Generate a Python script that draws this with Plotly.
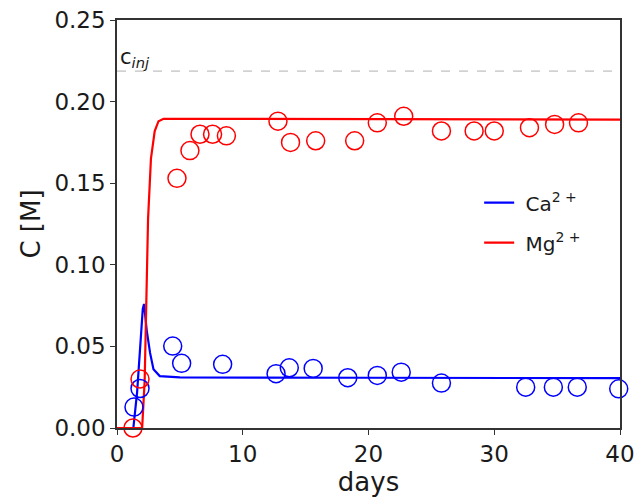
import plotly.graph_objects as go

# Measured data (open circles)
mg_days = [1.27, 1.83, 4.77, 5.8, 6.6, 7.6, 8.7, 12.8, 13.8, 15.8, 18.9, 20.7, 22.8, 25.8, 28.4, 30.0, 32.8, 34.8, 36.7]
mg_conc = [0.000, 0.030, 0.153, 0.170, 0.180, 0.180, 0.179, 0.188, 0.175, 0.176, 0.176, 0.187, 0.191, 0.182, 0.182, 0.182, 0.184, 0.186, 0.187]

ca_days = [1.35, 1.83, 4.43, 5.14, 8.4, 12.65, 13.7, 15.6, 18.35, 20.7, 22.6, 25.8, 32.5, 34.7, 36.6, 39.9]
ca_conc = [0.0128, 0.0242, 0.0502, 0.0396, 0.0390, 0.0333, 0.0369, 0.0365, 0.0308, 0.0322, 0.0342, 0.0275, 0.0250, 0.0250, 0.0250, 0.0240]

# Model curves
ca_model_days = [0.0, 1.3, 1.6, 1.85, 2.05, 2.15, 2.36, 2.63, 2.9, 3.4, 5.0, 20.0, 40.0]
ca_model_conc = [0.0, 0.0, 0.022, 0.050, 0.073, 0.076, 0.060, 0.046, 0.036, 0.0318, 0.031, 0.0308, 0.0305]

mg_model_days = [0.0, 2.0, 2.2, 2.36, 2.47, 2.7, 3.0, 3.3, 3.7, 40.0]
mg_model_conc = [0.0, 0.0, 0.029, 0.091, 0.128, 0.165, 0.182, 0.188, 0.1895, 0.189]

c_inj = 0.2187

x_ticks = [0, 10, 20, 30, 40]
y_ticks = [0.00, 0.05, 0.10, 0.15, 0.20, 0.25]

BLUE = "#0000ff"
RED = "#ff0000"
FONT = "DejaVu Sans"
TXT = "#1a1a1a"

fig = go.Figure()

fig.add_trace(go.Scatter(x=[0, 40], y=[c_inj, c_inj], mode="lines",
                         line=dict(color="#b0b0b0", width=1, dash="dash"),
                         showlegend=False, hoverinfo="skip"))

fig.add_trace(go.Scatter(x=ca_model_days, y=ca_model_conc, mode="lines",
                         line=dict(color=BLUE, width=2.2), name="\u00a0Ca<sup>2 +</sup>",
                         legendgroup="ca"))
fig.add_trace(go.Scatter(x=mg_model_days, y=mg_model_conc, mode="lines",
                         line=dict(color=RED, width=2.2), name="\u00a0Mg<sup>2 +</sup>",
                         legendgroup="mg"))

fig.add_trace(go.Scatter(x=ca_days, y=ca_conc, mode="markers",
                         marker=dict(symbol="circle-open", size=18, color=BLUE, line=dict(width=1.5)),
                         showlegend=False, cliponaxis=False))
fig.add_trace(go.Scatter(x=mg_days, y=mg_conc, mode="markers",
                         marker=dict(symbol="circle-open", size=18, color=RED, line=dict(width=1.5)),
                         showlegend=False, cliponaxis=False))

fig.add_annotation(x=0.05, y=c_inj, xref="x", yref="y", text="c<sub><i>inj</i></sub>",
                   showarrow=False, xanchor="left", yanchor="bottom", yshift=-2,
                   font=dict(family=FONT, size=21, color=TXT))

axis_common = dict(showgrid=False, zeroline=False, showline=True, mirror=True,
                   linecolor="#333333", linewidth=1.5, ticks="outside", ticklen=5,
                   tickwidth=1.2, tickcolor="#333333", automargin=False,
                   tickfont=dict(family=FONT, size=23, color=TXT))

fig.update_layout(
    width=636, height=500,
    margin=dict(l=117, r=16, t=20, b=72),
    plot_bgcolor="white", paper_bgcolor="white",
    font=dict(family=FONT, color=TXT),
    xaxis=dict(range=[0, 40], tickvals=x_ticks, ticktext=[str(v) for v in x_ticks],
               title=dict(text="days", font=dict(family=FONT, size=26), standoff=2),
               **axis_common),
    yaxis=dict(range=[0, 0.25], tickvals=y_ticks, ticktext=[f"{v:.2f}" for v in y_ticks],
               title=dict(text="C [M]", font=dict(family=FONT, size=26), standoff=6),
               **axis_common),
    legend=dict(x=0.72, y=0.60, xanchor="left", yanchor="top", bgcolor="rgba(0,0,0,0)",
                font=dict(family=FONT, size=20, color=TXT), tracegroupgap=11,
                itemwidth=30),
)

fig.write_html("out.html")
